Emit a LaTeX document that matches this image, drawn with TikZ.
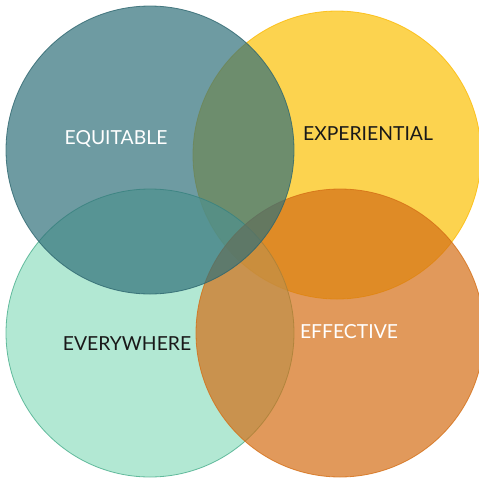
\documentclass[tikz,border=0pt]{standalone}
\usepackage{fontspec}
\setmainfont{Lato}

\definecolor{tealc}{RGB}{49,112,122}
\definecolor{yellowc}{RGB}{251,192,4}
\definecolor{mintc}{RGB}{145,222,192}
\definecolor{mintline}{RGB}{70,172,138}
\definecolor{orangec}{RGB}{212,110,21}

\tikzset{every picture/.style={line width=0.75pt}}
\tikzset{
  venn/.style={fill opacity=0.7, draw opacity=0.8, line width=0.6pt},
  vlabel/.style={font=\fontsize{14.5}{17}\selectfont, inner sep=0.75pt}
}

\begin{document}
\begin{tikzpicture}[x=0.75pt,y=0.75pt,yscale=-1,xscale=1]
\useasboundingbox (0,0) rectangle (479,480);
\clip (0,0) rectangle (479,480);

%Shape: Circle [yellow]
\draw [venn, draw=yellowc!90!orange, fill=yellowc] (337,155) circle [radius=144];
%Shape: Circle [mint]
\draw [venn, draw=mintline, fill=mintc] (150,333) circle [radius=144];
%Shape: Circle [orange]
\draw [venn, draw=orangec, fill=orangec] (340,333) circle [radius=144];
%Shape: Circle [teal]
\draw [venn, draw=tealc!90!black, fill=tealc] (150,150) circle [radius=144];

% Text Node
\node [vlabel, text=white] (equitable) at (116,139) {EQUITABLE};
% Text Node
\node [vlabel, text=black!90] (experiential) at (368,134) {EXPERIENTIAL};
% Text Node
\node [vlabel, text=black!90] (everywhere) at (127,344) {EVERYWHERE};
% Text Node
\node [vlabel, text=white] (effective) at (349,332) {EFFECTIVE};

\end{tikzpicture}
\end{document}
